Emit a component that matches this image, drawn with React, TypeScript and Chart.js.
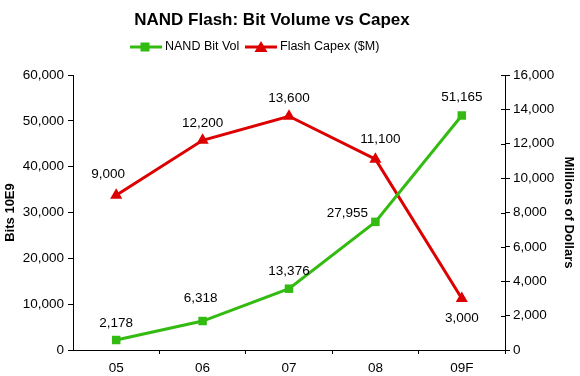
import React, { useEffect, useRef } from "react";
import { Chart, registerables } from "chart.js";

Chart.register(...registerables);

const categories = ["05", "06", "07", "08", "09F"];
const bitVolume = [2178, 6318, 13376, 27955, 51165];
const flashCapex = [9000, 12200, 13600, 11100, 3000];
const leftTicks = [0, 10000, 20000, 30000, 40000, 50000, 60000];
const rightTicks = [0, 2000, 4000, 6000, 8000, 10000, 12000, 14000, 16000];
const seriesNames = ["NAND Bit Vol", "Flash Capex ($M)"];
const chartTitle = "NAND Flash: Bit Volume vs Capex";

const GREEN = "#33bb11";
const RED = "#dd0000";
const FONT = "'Liberation Sans', Arial, sans-serif";

const fmt = (v: number) => v.toLocaleString("en-US");

// label placement (dx, dy) relative to each point, per series
const labelOffsets = [
  [[0, -17], [-2, -23], [0, -17], [-28, -9], [0, -18]],
  [[-8, -21], [0, -17], [0, -18], [5, -20], [0, 20]],
];

const labelPlugin = {
  id: "pointLabels",
  afterDatasetsDraw(chart: any) {
    const ctx = chart.ctx;
    ctx.save();
    ctx.font = `13.5px ${FONT}`;
    ctx.fillStyle = "#000";
    ctx.textAlign = "center";
    ctx.textBaseline = "middle";
    chart.data.datasets.forEach((ds: any, i: number) => {
      const meta = chart.getDatasetMeta(i);
      meta.data.forEach((pt: any, j: number) => {
        const [dx, dy] = labelOffsets[i][j];
        ctx.fillText(fmt(ds.data[j]), pt.x + dx, pt.y + dy);
      });
    });
    ctx.restore();
  },
};

const headerPlugin = {
  id: "header",
  afterDraw(chart: any) {
    const ctx = chart.ctx;
    ctx.save();
    ctx.fillStyle = "#000";
    ctx.textBaseline = "middle";
    ctx.textAlign = "center";
    ctx.font = `bold 17px ${FONT}`;
    ctx.fillText(chartTitle, 272, 20);
    // legend
    const y = 47;
    ctx.lineWidth = 3;
    ctx.strokeStyle = GREEN;
    ctx.fillStyle = GREEN;
    ctx.beginPath();
    ctx.moveTo(130, y);
    ctx.lineTo(162, y);
    ctx.stroke();
    ctx.fillRect(140.5, y - 4.5, 9, 9);
    ctx.strokeStyle = RED;
    ctx.fillStyle = RED;
    ctx.beginPath();
    ctx.moveTo(245, y);
    ctx.lineTo(277, y);
    ctx.stroke();
    ctx.beginPath();
    ctx.moveTo(261, y - 6);
    ctx.lineTo(267.5, y + 5);
    ctx.lineTo(254.5, y + 5);
    ctx.closePath();
    ctx.fill();
    ctx.fillStyle = "#000";
    ctx.textAlign = "left";
    ctx.font = `12.5px ${FONT}`;
    ctx.fillText(seriesNames[0], 165, y);
    ctx.fillText(seriesNames[1], 280, y);
    // inner tick marks on right axis
    const s = chart.scales.y1;
    ctx.strokeStyle = "#000";
    ctx.lineWidth = 1;
    s.ticks.forEach((t: any) => {
      const py = Math.round(s.getPixelForValue(t.value)) + 0.5;
      ctx.beginPath();
      ctx.moveTo(s.left - 4, py);
      ctx.lineTo(s.left, py);
      ctx.stroke();
    });
    ctx.restore();
  },
};

export default function App() {
  const ref = useRef<HTMLCanvasElement>(null);
  useEffect(() => {
    const chart = new Chart(ref.current!, {
      type: "line",
      data: {
        labels: categories,
        datasets: [
          {
            label: seriesNames[0],
            data: bitVolume,
            borderColor: GREEN,
            backgroundColor: GREEN,
            borderWidth: 3,
            pointStyle: "rect",
            pointRadius: 6,
            pointBorderWidth: 0,
            yAxisID: "y",
            tension: 0,
          },
          {
            label: seriesNames[1],
            data: flashCapex,
            borderColor: RED,
            backgroundColor: RED,
            borderWidth: 3,
            pointStyle: "triangle",
            pointRadius: 7,
            pointBorderWidth: 0,
            yAxisID: "y1",
            tension: 0,
          },
        ],
      },
      options: {
        animation: false,
        responsive: false,
        layout: { padding: { top: 75, left: 0, right: 0, bottom: 0 } },
        plugins: {
          title: { display: false },
          legend: { display: false },
          tooltip: { enabled: false },
        },
        scales: {
          x: {
            offset: true,
            grid: {
              display: true,
              offset: true,
              drawOnChartArea: false,
              drawTicks: true,
              tickLength: 4,
              color: (c: any) => (c.index === 0 ? "rgba(0,0,0,0)" : "#000"),
            },
            border: { display: true, color: "#000", width: 1 },
            ticks: { color: "#000", font: { family: FONT, size: 13.5 }, padding: 6 },
            afterFit: (s: any) => { s.height = 26; },
          },
          y: {
            position: "left",
            min: 0,
            max: 60000,
            afterBuildTicks: (s: any) => { s.ticks = leftTicks.map((v) => ({ value: v })); },
            grid: { display: true, drawOnChartArea: false, tickLength: 5, color: "#000" },
            border: { display: true, color: "#000", width: 1 },
            ticks: { color: "#000", font: { family: FONT, size: 13.5 }, padding: 4, callback: (v: any) => fmt(Number(v)) },
            title: { display: true, text: "Bits 10E9", color: "#000", font: { family: FONT, size: 13, weight: "bold" }, padding: { top: 3, bottom: 4 } },
            afterFit: (s: any) => { s.width = 73; },
          },
          y1: {
            position: "right",
            min: 0,
            max: 16000,
            afterBuildTicks: (s: any) => { s.ticks = rightTicks.map((v) => ({ value: v })); },
            grid: { display: true, drawOnChartArea: false, tickLength: 5, color: "#000" },
            border: { display: true, color: "#000", width: 1 },
            ticks: { color: "#000", font: { family: FONT, size: 13.5 }, padding: 3, callback: (v: any) => fmt(Number(v)) },
            title: { display: true, text: "Millions of Dollars", color: "#000", font: { family: FONT, size: 13, weight: "bold" }, padding: { top: 4, bottom: 3 } },
            afterFit: (s: any) => { s.width = 75; },
          },
        },
      },
      plugins: [labelPlugin, headerPlugin],
    });
    return () => chart.destroy();
  }, []);
  return (
    <div style={{ position: "absolute", left: 0, top: 0, width: 580, height: 376, background: "#fff" }}>
      <canvas ref={ref} width={580} height={376} style={{ width: 580, height: 376 }} />
    </div>
  );
}
